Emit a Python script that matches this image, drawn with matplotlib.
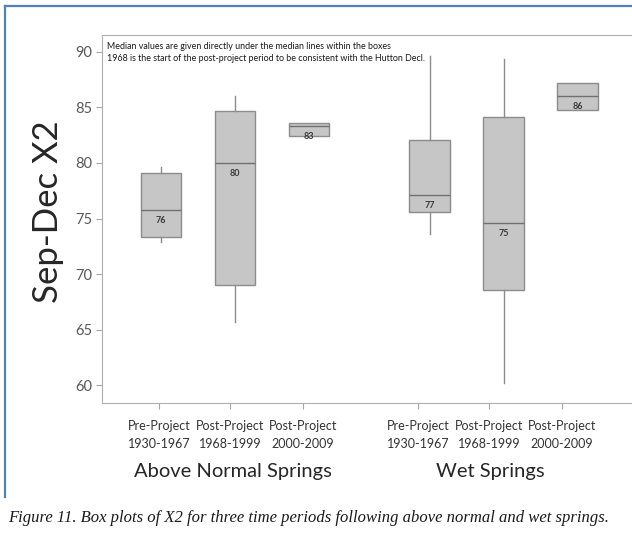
import matplotlib.pyplot as plt
from matplotlib.lines import Line2D

# box statistics (Sep-Dec X2)
periods = ['Pre-Project\n1930-1967', 'Post-Project\n1968-1999', 'Post-Project\n2000-2009'] * 2
whislo = [72.9, 65.7, 82.4, 73.6, 60.2, 84.8]
q1 = [73.3, 69.0, 82.4, 75.6, 68.6, 84.8]
med = [75.8, 80.0, 83.35, 77.1, 74.6, 86.05]
q3 = [79.1, 84.7, 83.6, 82.1, 84.1, 87.2]
whishi = [79.6, 86.0, 83.6, 89.6, 89.4, 87.2]
med_labels = ['76', '80', '83', '77', '75', '86']
groups = ['Above Normal Springs', 'Wet Springs']

# layout (x data units)
box_pos = [1, 2, 3, 4.63, 5.63, 6.63]
tick_pos = [0.973, 1.932, 2.919, 4.473, 5.432, 6.419]

plt.rcParams['font.family'] = ['Lato', 'DejaVu Sans']

fig = plt.figure(figsize=(6.32, 5.33), dpi=100)
ax = fig.add_axes([102 / 632, 130 / 533, 530 / 632, 368 / 533])

stats = []
for i in range(len(med)):
    stats.append(dict(whislo=whislo[i], q1=q1[i], med=med[i], q3=q3[i], whishi=whishi[i], fliers=[]))

ax.bxp(stats, positions=box_pos, widths=0.55, patch_artist=True, showcaps=False,
       boxprops=dict(facecolor='#c6c6c6', edgecolor='#8c8c8c', linewidth=1),
       medianprops=dict(color='#707070', linewidth=1),
       whiskerprops=dict(color='#8c8c8c', linewidth=1), manage_ticks=False)

for x, m, lab in zip(box_pos, med, med_labels):
    ax.annotate(lab, (x, m), xytext=(0, -7.5), textcoords='offset points',
                ha='center', va='center', fontsize=6.5, fontweight='bold', color='#3a3a3a')

ax.set_xlim(0.203, 7.365)
ax.set_ylim(58.38, 91.53)
ax.set_yticks(range(60, 91, 5))
ax.set_xticks(tick_pos)
ax.set_xticklabels(periods, fontsize=9, color='#333333', linespacing=1.6)
ax.tick_params(axis='y', labelsize=10.5, labelcolor='#595959', color='#a6a6a6', length=4, pad=3)
ax.tick_params(axis='x', color='#a6a6a6', length=4, pad=8)
for s in ['left', 'top', 'bottom']:
    ax.spines[s].set_color('#b0b0b0')
ax.spines['right'].set_visible(False)

ax.set_ylabel('Sep-Dec X2', fontsize=25, color='#262626')
ax.yaxis.set_label_coords(-0.072, 0.52)

ax.text(0.01, 0.969, 'Median values are given directly under the median lines within the boxes',
        transform=ax.transAxes, fontsize=6.4, color='#1a1a1a', va='center')
ax.text(0.01, 0.937, '1968 is the start of the post-project period to be consistent with the Hutton Decl.',
        transform=ax.transAxes, fontsize=6.4, color='#1a1a1a', va='center')

fig.text(233 / 632, 1 - 472 / 533, groups[0], ha='center', va='center', fontsize=14.5, color='#262626')
fig.text(490 / 632, 1 - 472 / 533, groups[1], ha='center', va='center', fontsize=14.5, color='#262626')

fig.text(8 / 632, 1 - 518 / 533,
         'Figure 11. Box plots of X2 for three time periods following above normal and wet springs.',
         family=['Liberation Serif', 'DejaVu Serif'], style='italic', fontsize=12,
         color='#1a1a1a', va='center')

# blue frame of the document figure
fig.add_artist(Line2D([5 / 632, 1], [1 - 6 / 533, 1 - 6 / 533], color='#4f81bd', linewidth=1.6))
fig.add_artist(Line2D([5 / 632, 5 / 632], [1 - 6 / 533, 1 - 497 / 533], color='#4f81bd', linewidth=1.6))

fig.savefig('out.png', dpi=100)
